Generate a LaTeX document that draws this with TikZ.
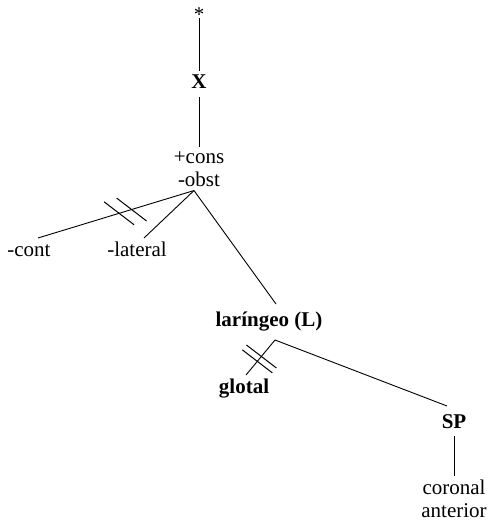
\documentclass[tikz,border=0pt]{standalone}
\usepackage{fontspec}
\setmainfont{Liberation Serif}
\usepackage{tikz}
\usetikzlibrary{positioning, calc}
\tikzstyle{seg} = [rectangle, inner sep=0pt, outer sep=4pt, text height=14pt, text depth=4pt, font=\fontsize{21}{23}\selectfont]
\tikzstyle{headseg} = [seg, font=\fontsize{21}{23}\selectfont\bfseries]
\tikzstyle{feat} = [rectangle, inner sep=0pt, outer sep=4pt, align=center, font=\fontsize{21}{23}\selectfont]
\tikzstyle{branch} = [line width=0.9pt]
\tikzstyle{delink} = [line width=1pt]
\begin{document}
\begin{tikzpicture}[x=1pt, y=1pt, node distance=1cm, on grid]
    \useasboundingbox (0,0) rectangle (493,-529);
    \node (star) [inner sep=0pt, font=\fontsize{21}{23}\selectfont] at (199,-15) {*};
    \node (x) [headseg, below=69pt of star] {X};
    \node (cons) [feat, below=85pt of x] {+cons\\-obst};
    \node (cont) [seg, below left=82pt and 170pt of cons] {-cont};
    \node (lat) [seg, below left=82pt and 62pt of cons] {-lateral};
    \node (lar) [headseg, below right=152pt and 70pt of cons] {laríngeo (L)};
    \node (glot) [headseg, below left=67pt and 25pt of lar] {glotal};
    \node (sp) [headseg, below right=102pt and 185pt of lar] {SP};
    \node (cor) [feat, below=76pt of sp] {coronal\\anterior};
    \coordinate (j1) at ([xshift=-5pt]cons.south);
    \coordinate (j2) at ([xshift=6pt,yshift=-6pt]lar.south);
    \draw [branch] ([yshift=4pt]star.south) -- (x);
    \draw [branch] (x) -- (cons);
    \draw [branch] (j1) -- ([xshift=9pt]cont.north);
    \draw [branch] (j1) -- ([xshift=7pt]lat.north);
    \draw [branch] (j1) -- ([xshift=7pt,yshift=4pt]lar.north);
    \draw [branch] (j2) -- ([xshift=2pt]glot.north);
    \draw [branch] (j2) -- ([xshift=-7pt,yshift=4pt]sp.north);
    \draw [branch] (sp) -- (cor);
    % delinking bars
    \draw [delink] ($(j1)!0.40!([xshift=9pt]cont.north)$) ++(-15,11.5) -- ++(30,-23);
    \draw [delink] ($(j1)!0.48!([xshift=9pt]cont.north)$) ++(-15,11.5) -- ++(30,-23);
    \draw [delink] ($(j2)!0.47!([xshift=2pt]glot.north)$) ++(-15,11.5) -- ++(30,-23);
    \draw [delink] ($(j2)!0.61!([xshift=2pt]glot.north)$) ++(-15,11.5) -- ++(30,-23);
\end{tikzpicture}
\end{document}
